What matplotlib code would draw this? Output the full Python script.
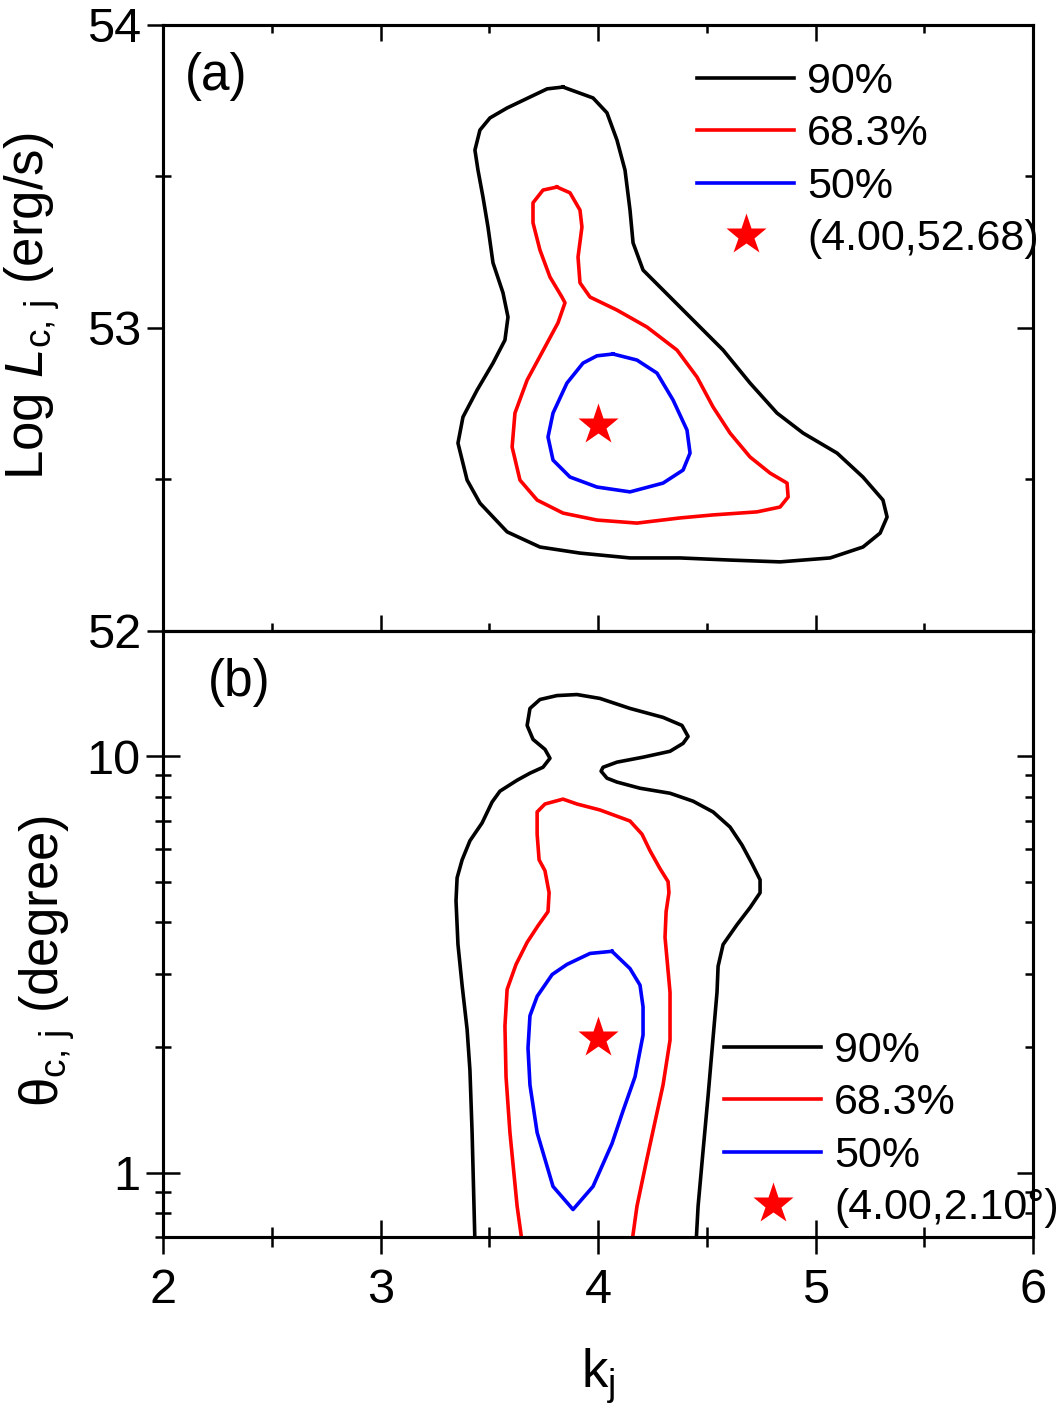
import numpy as np
import matplotlib
matplotlib.use('Agg')
import matplotlib.pyplot as plt

plt.rcParams['font.family'] = ['Liberation Sans', 'DejaVu Sans']
plt.rcParams['mathtext.fontset'] = 'custom'
plt.rcParams['mathtext.rm'] = 'Liberation Sans'
plt.rcParams['mathtext.it'] = 'Liberation Sans:italic'

# ---- panel (a): k_j vs Log L_c,j contours (closed curves)
a90_x = [3.839, 3.977, 4.041, 4.087, 4.124, 4.147, 4.161, 4.207, 4.299, 4.423, 4.575, 4.699, 4.823,
         4.943, 5.099, 5.218, 5.310, 5.329, 5.297, 5.218, 5.067, 4.837, 4.607, 4.377, 4.147, 3.917,
         3.733, 3.582, 3.457, 3.398, 3.356, 3.379, 3.444, 3.517, 3.572, 3.586, 3.563, 3.517, 3.494,
         3.471, 3.448, 3.434, 3.457, 3.503, 3.582, 3.687, 3.766]
a90_y = [53.795, 53.759, 53.710, 53.620, 53.521, 53.389, 53.281, 53.191, 53.125, 53.036, 52.927,
         52.818, 52.719, 52.653, 52.587, 52.508, 52.432, 52.376, 52.323, 52.277, 52.241, 52.228,
         52.234, 52.241, 52.241, 52.257, 52.277, 52.327, 52.422, 52.498, 52.620, 52.706, 52.795,
         52.884, 52.960, 53.036, 53.116, 53.215, 53.333, 53.432, 53.521, 53.587, 53.653, 53.693,
         53.726, 53.762, 53.789]

a68_x = [3.811, 3.871, 3.917, 3.926, 3.908, 3.917, 3.963, 4.087, 4.225, 4.363, 4.455, 4.529, 4.607,
         4.699, 4.791, 4.869, 4.874, 4.837, 4.731, 4.529, 4.377, 4.179, 3.995, 3.839, 3.720, 3.641,
         3.605, 3.618, 3.674, 3.756, 3.816, 3.848, 3.834, 3.779, 3.733, 3.701, 3.701, 3.747]
a68_y = [53.465, 53.446, 53.389, 53.333, 53.234, 53.149, 53.102, 53.059, 53.003, 52.927, 52.838,
         52.739, 52.653, 52.574, 52.521, 52.488, 52.442, 52.409, 52.393, 52.383, 52.373, 52.356,
         52.366, 52.389, 52.432, 52.498, 52.607, 52.719, 52.828, 52.937, 53.017, 53.083, 53.102,
         53.168, 53.257, 53.347, 53.413, 53.455]

a50_x = [4.069, 4.179, 4.271, 4.345, 4.409, 4.423, 4.391, 4.299, 4.147, 3.995, 3.871, 3.793, 3.770,
         3.793, 3.857, 3.931, 3.995]
a50_y = [52.914, 52.894, 52.851, 52.762, 52.663, 52.587, 52.531, 52.488, 52.459, 52.475, 52.508,
         52.564, 52.640, 52.719, 52.818, 52.884, 52.908]

best_a = (4.00, 52.68)

# ---- panel (b): k_j vs theta_c,j contours (90% / 68.3% run off the bottom edge)
b90_x = [3.434, 3.421, 3.411, 3.398, 3.375, 3.356, 3.347, 3.352, 3.375, 3.411, 3.467, 3.513, 3.549,
         3.628, 3.687, 3.747, 3.779, 3.756, 3.701, 3.674, 3.687, 3.733, 3.811, 3.903, 4.009, 4.147,
         4.299, 4.386, 4.414, 4.391, 4.331, 4.207, 4.087, 4.023, 4.014, 4.041, 4.087, 4.193, 4.331,
         4.437, 4.529, 4.607, 4.662, 4.708, 4.745, 4.745, 4.699, 4.639, 4.575, 4.552, 4.547, 4.529,
         4.506, 4.483, 4.460, 4.451]
b90_y = [0.68, 1.247, 1.762, 2.208, 2.818, 3.532, 4.498, 5.105, 5.636, 6.266, 6.918, 7.766, 8.245,
         8.760, 9.107, 9.412, 9.890, 10.39, 10.98, 11.86, 13.03, 13.69, 13.99, 14.07, 13.77, 13.03,
         12.40, 11.86, 11.16, 10.74, 10.28, 9.95, 9.68, 9.41, 9.21, 8.86, 8.67, 8.38, 8.15, 7.80,
         7.35, 6.76, 6.12, 5.52, 5.05, 4.70, 4.33, 3.94, 3.53, 3.13, 2.71, 2.11, 1.528, 1.129,
         0.830, 0.68]

b68_x = [3.651, 3.628, 3.595, 3.577, 3.572, 3.582, 3.623, 3.674, 3.724, 3.770, 3.775, 3.756, 3.729,
         3.720, 3.720, 3.756, 3.839, 3.903, 4.009, 4.147, 4.202, 4.239, 4.285, 4.322, 4.326, 4.313,
         4.308, 4.331, 4.331, 4.299, 4.225, 4.179, 4.156]
b68_y = [0.68, 0.830, 1.247, 1.698, 2.249, 2.754, 3.162, 3.573, 3.917, 4.235, 4.70, 5.31, 5.64,
         6.50, 7.35, 7.68, 7.89, 7.68, 7.43, 6.99, 6.50, 5.93, 5.37, 5.00, 4.70, 4.235, 3.675, 2.71,
         2.080, 1.624, 1.080, 0.830, 0.68]

b50_x = [4.064, 4.147, 4.193, 4.207, 4.207, 4.170, 4.115, 4.064, 3.977, 3.885, 3.793, 3.720, 3.687,
         3.678, 3.687, 3.720, 3.789, 3.857, 3.963]
b50_y = [3.40, 3.09, 2.82, 2.50, 2.14, 1.698, 1.407, 1.173, 0.926, 0.815, 0.926, 1.247, 1.624,
         1.991, 2.38, 2.65, 2.99, 3.162, 3.36]

best_b = (4.00, 2.10)

levels = ['90%', '68.3%', '50%']
colors = ['black', 'red', 'blue']

xticks = [2, 3, 4, 5, 6]
xminor = [2.5, 3.5, 4.5, 5.5]
a_yticks = [52, 53, 54]
a_yminor = [52.5, 53.5]
b_yticks = [1, 10]
b_yminor = [0.7, 0.8, 0.9, 2, 3, 4, 5, 6, 7, 8, 9]

FS = 35      # tick labels
LFS = 31     # legend
AFS = 38     # axis labels
LW = 2.6


def closed(x, y):
    return np.append(x, x[0]), np.append(y, y[0])


fig = plt.figure(figsize=(10.58, 14.16), dpi=100)
ax1 = fig.add_axes([0.1541, 0.5544, 0.8223, 0.428])
ax2 = fig.add_axes([0.1541, 0.1264, 0.8223, 0.428])

# panel (a)
for (x, y), lab, c in zip([(a90_x, a90_y), (a68_x, a68_y), (a50_x, a50_y)], levels, colors):
    ax1.plot(*closed(x, y), color=c, lw=LW, label=lab)
ax1.plot(*best_a, '*', color='red', ms=31, mec='none',
         label='(%.2f,%.2f)' % best_a)
ax1.set_xlim(2, 6)
ax1.set_ylim(52, 54)

# panel (b)
ax2.plot(b90_x, b90_y, color=colors[0], lw=LW, label=levels[0])
ax2.plot(b68_x, b68_y, color=colors[1], lw=LW, label=levels[1])
ax2.plot(*closed(b50_x, b50_y), color=colors[2], lw=LW, label=levels[2])
ax2.plot(*best_b, '*', color='red', ms=31, mec='none',
         label='(%.2f,%.2f°)' % best_b)
ax2.set_yscale('log')
ax2.set_xlim(2, 6)
ax2.set_ylim(0.7, 20)

for ax in (ax1, ax2):
    for s in ax.spines.values():
        s.set_linewidth(2.2)
    ax.set_xticks(xticks)
    ax.set_xticks(xminor, minor=True)

ax1.set_yticks(a_yticks)
ax1.set_yticks(a_yminor, minor=True)
ax1.set_yticklabels([str(v) for v in a_yticks])
ax1.tick_params(axis='y', which='major', direction='out', length=11.5, width=1.8,
                labelsize=FS, pad=4, right=False)
ax1.tick_params(axis='y', which='minor', direction='inout', length=12, width=1.8, right=False)
ax1.tick_params(axis='x', which='major', direction='in', length=11.5, width=1.8,
                labelbottom=False, top=False)
ax1.tick_params(axis='x', which='minor', direction='in', length=6, width=1.8, top=False)

ax2.set_yticks(b_yticks)
ax2.set_yticklabels([str(v) for v in b_yticks])
ax2.set_yticks(b_yminor, minor=True)
ax2.yaxis.set_minor_formatter(plt.NullFormatter())
ax2.tick_params(axis='y', which='major', direction='inout', length=24, width=1.8,
                labelsize=FS, pad=4, right=False)
ax2.tick_params(axis='y', which='minor', direction='inout', length=12, width=1.8, right=False)
ax2.tick_params(axis='x', which='major', direction='inout', length=24, width=1.8,
                labelsize=FS, pad=10, top=False)
ax2.tick_params(axis='x', which='minor', direction='inout', length=14, width=1.8, top=False)
ax2.set_xticklabels([str(v) for v in xticks])

# inward ticks on the right / top sides
for ax, log in ((ax1, False), (ax2, True)):
    tw = ax.twinx()
    if log:
        tw.set_yscale('log')
    tw.set_ylim(ax.get_ylim())
    tw.set_yticks(ax.get_yticks())
    tw.set_yticks(ax.get_yticks(minor=True), minor=True)
    tw.yaxis.set_minor_formatter(plt.NullFormatter())
    tw.set_ylim(ax.get_ylim())
    tw.tick_params(axis='y', which='major', direction='in', length=11.5, width=1.8, labelright=False)
    tw.tick_params(axis='y', which='minor', direction='in', length=6, width=1.8, labelright=False)
    for s in tw.spines.values():
        s.set_linewidth(2.2)
tt = ax1.twiny()
tt.set_xlim(2, 6)
tt.set_xticks(xticks)
tt.set_xticks(xminor, minor=True)
tt.tick_params(axis='x', which='major', direction='in', length=11.5, width=1.8, labeltop=False)
tt.tick_params(axis='x', which='minor', direction='in', length=6, width=1.8, labeltop=False)

ax1.set_ylabel('Log $\\mathit{L}_{\\mathrm{c,\\,j}}$ (erg/s)', fontsize=AFS)
ax1.yaxis.set_label_coords(-0.116, 0.535)
ax2.set_ylabel('θ$_{\\mathrm{c,\\,j}}$ (degree)', fontsize=AFS)
ax2.yaxis.set_label_coords(-0.099, 0.455)
ax2.set_xlabel('k$_{\\mathrm{j}}$', fontsize=AFS, labelpad=24)

ax1.text(0.025, 0.955, '(a)', transform=ax1.transAxes, fontsize=37, va='top')
ax2.text(0.051, 0.955, '(b)', transform=ax2.transAxes, fontsize=37, va='top')

leg_kw = dict(frameon=False, fontsize=LFS, handlelength=2.25, handletextpad=0.3,
              labelspacing=0.29, borderpad=0, borderaxespad=0, loc='upper left')
ax1.legend(bbox_to_anchor=(0.614, 0.939), **leg_kw)
ax2.legend(bbox_to_anchor=(0.645, 0.34), **leg_kw)

fig.savefig('out.png', dpi=100)
